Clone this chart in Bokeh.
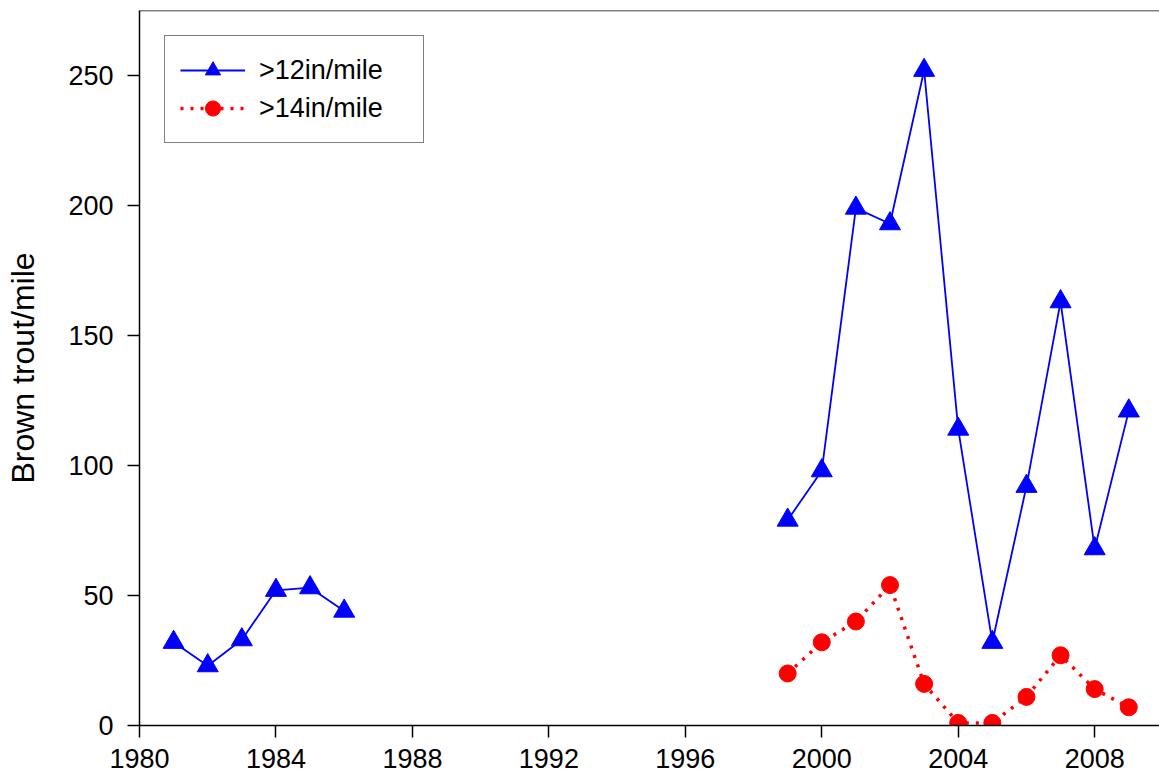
from bokeh.plotting import figure
from bokeh.models import Range1d, Span, FixedTicker, Legend
from bokeh.embed import file_html
from bokeh.resources import INLINE

years_early = [1981, 1982, 1983, 1984, 1985, 1986]
over12_early = [32, 23, 33, 52, 53, 44]

years_late = [1999, 2000, 2001, 2002, 2003, 2004, 2005, 2006, 2007, 2008, 2009]
over12_late = [79, 98, 199, 193, 252, 114, 32, 92, 163, 68, 121]
over14_late = [20, 32, 40, 54, 16, 1, 1, 11, 27, 14, 7]

x_ticks = [1980, 1984, 1988, 1992, 1996, 2000, 2004, 2008]
y_ticks = [0, 50, 100, 150, 200, 250]

FONT = "Liberation Sans"

p = figure(width=1159, height=781, output_backend="svg", toolbar_location=None,
           x_range=Range1d(1980, 2009.9), y_range=Range1d(0, 275),
           min_border_left=139, min_border_right=0, min_border_top=10, min_border_bottom=56)

p.grid.visible = False
p.outline_line_color = None
p.background_fill_color = "white"
p.border_fill_color = "white"

top_line = Span(location=275, dimension="width", line_color="black", line_width=1.5)
p.add_layout(top_line)

for ax in (p.xaxis[0], p.yaxis[0]):
    ax.axis_line_color = "black"
    ax.axis_line_width = 1.5
    ax.major_tick_line_color = "black"
    ax.major_tick_line_width = 1.5
    ax.major_tick_out = 12
    ax.major_tick_in = 0
    ax.minor_tick_line_color = None
    ax.major_label_text_font = FONT
    ax.major_label_text_font_size = "27px"
    ax.major_label_text_color = "black"

p.xaxis[0].ticker = FixedTicker(ticks=x_ticks)
p.yaxis[0].ticker = FixedTicker(ticks=y_ticks)
p.xaxis[0].major_label_standoff = 11
p.yaxis[0].major_label_standoff = 14
p.yaxis[0].axis_label = "Brown trout/mile"
p.yaxis[0].axis_label_text_font = FONT
p.yaxis[0].axis_label_text_font_size = "32px"
p.yaxis[0].axis_label_text_font_style = "normal"
p.yaxis[0].axis_label_text_color = "black"
p.yaxis[0].axis_label_standoff = 24

BLUE = "#0000ff"
RED = "#ff0000"

l1 = p.line(years_early, over12_early, line_color=BLUE, line_width=1.8)
l2 = p.line(years_late, over12_late, line_color=BLUE, line_width=1.8)
m1 = p.scatter(years_early, over12_early, marker="triangle", size=21,
               fill_color=BLUE, line_color=BLUE)
m2 = p.scatter(years_late, over12_late, marker="triangle", size=21,
               fill_color=BLUE, line_color=BLUE)

l3 = p.line(years_late, over14_late, line_color=RED, line_width=3.5,
            line_dash="3 7", line_cap="butt")
m3 = p.scatter(years_late, over14_late, marker="circle", size=17,
               fill_color=RED, line_color=RED)

legend = Legend(items=[(">12in/mile", [l2, m2]), (">14in/mile", [l3, m3])],
                location="top_left")
legend.label_text_font = FONT
legend.label_text_font_size = "27px"
legend.label_text_color = "black"
legend.border_line_color = "black"
legend.border_line_width = 1.2
legend.background_fill_color = "white"
legend.background_fill_alpha = 1
legend.glyph_width = 65
legend.glyph_height = 38
legend.label_height = 20
legend.label_width = 149
legend.spacing = 0
legend.padding = 15
legend.margin = 25
legend.label_standoff = 14
p.add_layout(legend)

open("out.html", "w").write(file_html(p, INLINE))
